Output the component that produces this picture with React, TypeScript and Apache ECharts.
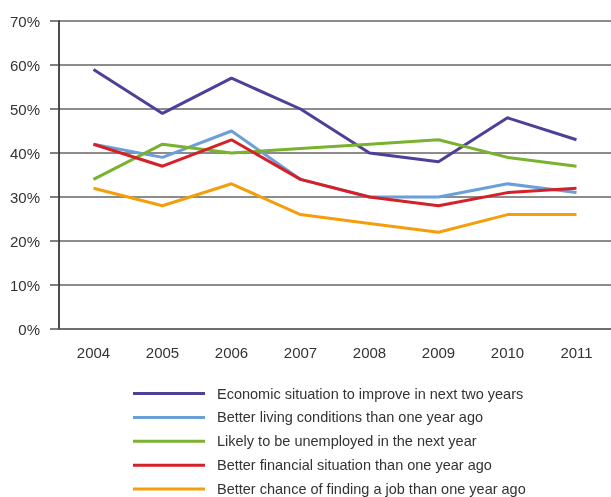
import React, { useEffect, useRef } from "react";
import * as echarts from "echarts";

const years = ["2004", "2005", "2006", "2007", "2008", "2009", "2010", "2011"];
const seriesNames = [
  "Economic situation to improve in next two years",
  "Better living conditions than one year ago",
  "Likely to be unemployed in the next year",
  "Better financial situation than one year ago",
  "Better chance of finding a job than one year ago",
];
const economic = [59, 49, 57, 50, 40, 38, 48, 43];
const living = [42, 39, 45, 34, 30, 30, 33, 31];
const unemployed = [34, 42, 40, 41, 42, 43, 39, 37];
const financial = [42, 37, 43, 34, 30, 28, 31, 32];
const job = [32, 28, 33, 26, 24, 22, 26, 26];
const colors = ["#4e3f98", "#6a9fd8", "#78b22e", "#d42026", "#f59e0b"];

export default function App() {
  const ref = useRef<HTMLDivElement>(null);
  useEffect(() => {
    if (!ref.current) return;
    const chart = echarts.init(ref.current, null, { renderer: "svg" });
    const data = [economic, living, unemployed, financial, job];
    const font = "Liberation Sans, Arial, sans-serif";
    chart.setOption({
      animation: false,
      color: colors,
      textStyle: { fontFamily: font },
      grid: { left: 59, right: 0, top: 21, bottom: 168, containLabel: false },
      legend: {
        orient: "vertical",
        left: 128,
        top: 381,
        height: 200,
        itemWidth: 72,
        itemHeight: 3,
        itemGap: 8.9,
        icon: "rect",
        textStyle: { fontSize: 14.5, lineHeight: 14, color: "#333", fontFamily: font, padding: [0, 0, 0, 7] },
        data: seriesNames,
      },
      xAxis: {
        type: "category",
        data: years,
        boundaryGap: true,
        axisLine: { lineStyle: { color: "#666", width: 1.5 } },
        axisTick: { length: 12, lineStyle: { color: "#111", width: 1.5 } },
        axisLabel: { fontSize: 15, color: "#333", margin: 16, fontFamily: font },
      },
      yAxis: {
        type: "value",
        min: 0,
        max: 70,
        interval: 10,
        axisLine: { show: true, lineStyle: { color: "#111", width: 1.5 } },
        axisTick: { show: true, length: 9, lineStyle: { color: "#555", width: 1.5 } },
        splitLine: { lineStyle: { color: "#666", width: 1.6 } },
        axisLabel: { fontSize: 15, color: "#333", margin: 19, formatter: "{value}%", fontFamily: font },
      },
      series: seriesNames.map((n, i) => ({
        name: n,
        type: "line",
        data: data[i],
        symbol: "none",
        lineStyle: { width: 3, color: colors[i] },
        itemStyle: { color: colors[i] },
      })),
    });
    return () => chart.dispose();
  }, []);
  return <div ref={ref} style={{ position: "fixed", left: 0, top: 0, width: 611, height: 497 }} />;
}
